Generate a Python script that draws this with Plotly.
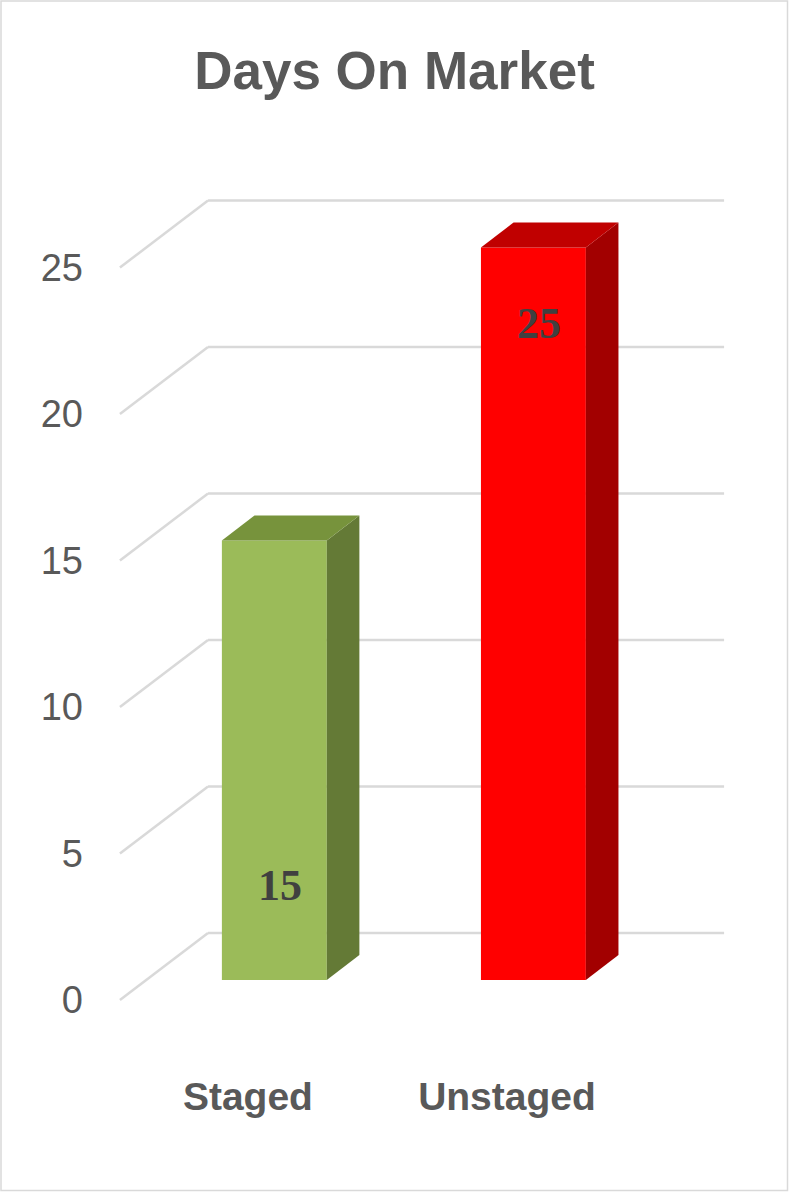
"""
Days On Market - staged vs unstaged, 3D-style column chart in Plotly.
"""
import plotly.graph_objects as go

# ───────────────────────────────────────────
# data
# ───────────────────────────────────────────
categories = ["Staged", "Unstaged"]
days = [15, 25]
y_ticks = [0, 5, 10, 15, 20, 25]

# ───────────────────────────────────────────
# style / geometry (axis units)
# ───────────────────────────────────────────
front_colors = ["#9BBB59", "#FF0000"]
top_colors = ["#77933C", "#C00000"]
side_colors = ["#647A36", "#A20000"]
label_y = [3.9, 23.1]          # where Excel put the data labels

DX, DY = 0.34, 2.29            # full depth of the floor / back wall
BAR_FRONT, BAR_BACK = 0.30, 0.67
BAR_W = 0.405
AXIS_X = -0.494                # front edge of the floor (left)
WALL_END = 1.838               # right end of back wall gridlines
GRID = "#D9D9D9"
TXT = "#595959"
FONT = "Liberation Sans, Arial, sans-serif"

W, H = 789, 1192
ML, MR, MT, MB = 93, 60, 165, 148

fig = go.Figure()

# front faces of the columns
xs = list(range(len(categories)))
base = BAR_FRONT * DY
fig.add_trace(go.Bar(
    x=xs, y=days, base=base, width=BAR_W,
    offset=BAR_FRONT * DX - BAR_W / 2,
    marker=dict(color=front_colors, line_width=0),
    hoverinfo="skip", showlegend=False,
))

# side and top faces
ddx = (BAR_BACK - BAR_FRONT) * DX
ddy = (BAR_BACK - BAR_FRONT) * DY
for x, v, top_c, side_c in zip(xs, days, top_colors, side_colors):
    xl = x + BAR_FRONT * DX - BAR_W / 2
    xr = xl + BAR_W
    top = base + v
    fig.add_trace(go.Scatter(
        x=[xr, xr, xr + ddx, xr + ddx, xr],
        y=[base, top, top + ddy, base + ddy, base],
        fill="toself", fillcolor=side_c, mode="lines", line_width=0,
        hoverinfo="skip", showlegend=False,
    ))
    fig.add_trace(go.Scatter(
        x=[xl, xr, xr + ddx, xl + ddx, xl],
        y=[top, top, top + ddy, top + ddy, top],
        fill="toself", fillcolor=top_c, mode="lines", line_width=0,
        hoverinfo="skip", showlegend=False,
    ))

# perspective gridlines: floor diagonal + back wall line
for v in y_ticks:
    fig.add_shape(type="line", x0=AXIS_X, y0=v, x1=AXIS_X + DX, y1=v + DY,
                  line=dict(color=GRID, width=2.5), layer="below")
    fig.add_shape(type="line", x0=AXIS_X + DX, y0=v + DY, x1=WALL_END, y1=v + DY,
                  line=dict(color=GRID, width=2.5), layer="below")

# data labels
for x, v, ly in zip(xs, days, label_y):
    fig.add_annotation(
        x=x + BAR_FRONT * DX + 0.02, y=ly, text=f"<b>{v}</b>", showarrow=False,
        font=dict(family="Liberation Serif, DejaVu Serif, serif", size=44, color="#404040"),
    )

# chart border
pw, ph = W - ML - MR, H - MT - MB
fig.add_shape(type="rect", xref="paper", yref="paper",
              x0=(1 - ML) / pw, x1=(W - 1.5 - ML) / pw,
              y0=(ph + MT - (H - 1.5)) / ph, y1=(ph + MT - 1) / ph,
              line=dict(color=GRID, width=1.5), layer="below")

fig.update_layout(
    width=W, height=H,
    margin=dict(l=ML, r=MR, t=MT, b=MB, autoexpand=False),
    paper_bgcolor="#ffffff", plot_bgcolor="#ffffff",
    title=dict(text="<b>Days On Market</b>", x=0.5, xanchor="center", xref="container",
               y=1 - 70 / H, yanchor="middle", yref="container",
               font=dict(family=FONT, size=53, color=TXT)),
    xaxis=dict(range=[-0.598, 1.857], tickvals=xs,
               ticktext=[f"<b>{c}</b>" for c in categories],
               tickfont=dict(family=FONT, size=39, color=TXT),
               showgrid=False, zeroline=False, showline=False,
               ticklabelstandoff=26),
    yaxis=dict(range=[-1.5, 28.5], tickvals=y_ticks,
               tickfont=dict(family=FONT, size=38, color=TXT),
               showgrid=False, zeroline=False, showline=False,
               ticklabelstandoff=9),
)

# drop the default page margin so the figure fills the window
fig.write_html("out.html", config={"displayModeBar": False},
               post_script="document.body.style.margin='0';")
